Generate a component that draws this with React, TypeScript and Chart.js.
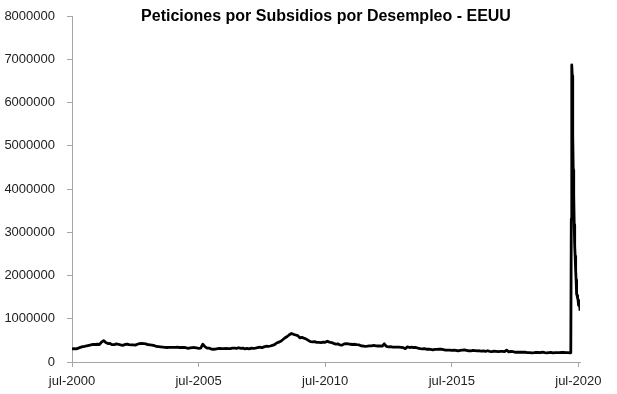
import { useEffect, useRef } from 'react';
import { Chart, registerables } from 'chart.js';

Chart.register(...registerables);

const TITLE = 'Peticiones por Subsidios por Desempleo - EEUU';

// Weekly initial claims, monthly readings (thousands), Jul 2000 -> Feb 2020
const claims2000 = [305, 310, 305, 320, 340, 355]; // Jul-Dec
const claims2001 = [360, 375, 385, 395, 405, 405, 410, 405, 460, 495, 450, 425];
const claims2002 = [430, 400, 400, 420, 410, 395, 385, 400, 415, 400, 395, 395];
const claims2003 = [390, 410, 425, 430, 425, 420, 400, 395, 390, 380, 360, 355];
const claims2004 = [350, 345, 340, 335, 340, 340, 340, 340, 345, 335, 335, 335];
const claims2005 = [330, 315, 325, 330, 335, 325, 315, 320, 410, 355, 320, 320];
const claims2006 = [300, 295, 300, 310, 315, 310, 310, 315, 310, 310, 320, 320];
const claims2007 = [315, 330, 315, 320, 305, 315, 305, 320, 315, 320, 335, 345];
const claims2008 = [330, 350, 365, 360, 370, 385, 400, 440, 460, 480, 520, 560];
const claims2009 = [590, 630, 660, 640, 625, 610, 560, 570, 550, 530, 500, 470];
const claims2010 = [465, 470, 455, 455, 450, 460, 455, 480, 460, 450, 430, 415];
const claims2011 = [420, 395, 390, 420, 425, 420, 410, 405, 410, 400, 395, 375];
const claims2012 = [370, 360, 365, 375, 375, 385, 375, 370, 375, 365, 420, 360];
const claims2013 = [350, 355, 345, 345, 345, 345, 340, 330, 310, 350, 335, 345];
const claims2014 = [335, 335, 320, 310, 305, 310, 295, 300, 290, 280, 290, 290];
const claims2015 = [295, 295, 285, 275, 275, 275, 270, 275, 270, 260, 270, 275];
const claims2016 = [280, 270, 260, 255, 270, 265, 255, 260, 250, 255, 245, 260];
const claims2017 = [245, 240, 250, 245, 240, 245, 245, 240, 275, 235, 245, 240];
const claims2018 = [225, 225, 225, 225, 225, 225, 215, 215, 210, 215, 225, 220];
const claims2019 = [215, 230, 215, 210, 215, 220, 210, 215, 215, 215, 220, 225];
const claims2020 = [215, 215]; // Jan-Feb

// Weekly readings from March 2020 (thousands)
const weekDates2020 = [
  '2020-03-07', '2020-03-14', '2020-03-21', '2020-03-28', '2020-04-04', '2020-04-11',
  '2020-04-18', '2020-04-25', '2020-05-02', '2020-05-09', '2020-05-16', '2020-05-23',
  '2020-05-30', '2020-06-06', '2020-06-13', '2020-06-20', '2020-06-27', '2020-07-04',
  '2020-07-11', '2020-07-18', '2020-07-25',
];
const weekClaims2020 = [
  211, 282, 3307, 6867, 6615, 5237, 4442, 3867, 3176, 2687, 2446, 2123,
  1897, 1566, 1540, 1482, 1427, 1314, 1300, 1416, 1186,
];

const xTickDates = ['2000-07-01', '2005-07-01', '2010-07-01', '2015-07-01', '2020-07-01'];
const xTickLabels = ['jul-2000', 'jul-2005', 'jul-2010', 'jul-2015', 'jul-2020'];
const yMin = 0;
const yMax = 8000000;
const yStep = 1000000;

const monthlyClaims = [
  ...claims2000, ...claims2001, ...claims2002, ...claims2003, ...claims2004,
  ...claims2005, ...claims2006, ...claims2007, ...claims2008, ...claims2009,
  ...claims2010, ...claims2011, ...claims2012, ...claims2013, ...claims2014,
  ...claims2015, ...claims2016, ...claims2017, ...claims2018, ...claims2019,
  ...claims2020,
];

function monthsSinceStart(dateStr: string): number {
  const [y, m, d] = dateStr.split('-').map(Number);
  const dim = new Date(y, m, 0).getDate();
  return (y - 2000) * 12 + (m - 7) + ((d || 1) - 1) / dim;
}

const points = [
  ...monthlyClaims.map((v, i) => ({ x: i, y: v * 1000 })),
  ...weekDates2020.map((d, i) => ({ x: monthsSinceStart(d), y: weekClaims2020[i] * 1000 })),
];

const FONT = '"Liberation Sans", Arial, Helvetica, sans-serif';
const AXIS_COLOR = '#a6a6a6';

const titlePlugin = {
  id: 'centerTitle',
  afterDraw(chart: any) {
    const { ctx, chartArea } = chart;
    ctx.save();
    ctx.font = `bold 16px ${FONT}`;
    ctx.fillStyle = '#000';
    ctx.textAlign = 'center';
    ctx.textBaseline = 'middle';
    ctx.fillText(TITLE, (chartArea.left + chartArea.right) / 2, 17);
    ctx.restore();
  },
};

export default function App() {
  const ref = useRef<HTMLCanvasElement | null>(null);

  useEffect(() => {
    document.body.style.margin = '0';
    const canvas = ref.current;
    if (!canvas) return;
    const xMax = points[points.length - 1].x;
    const chart = new Chart(canvas, {
      type: 'line',
      data: {
        datasets: [
          {
            data: points,
            borderColor: '#000',
            borderWidth: 2.8,
            pointRadius: 0,
            tension: 0,
            borderJoinStyle: 'round',
            fill: false,
          },
        ],
      },
      options: {
        animation: false,
        responsive: false,
        parsing: false,
        layout: { padding: { left: 0, top: 16, right: 37, bottom: 0 } },
        plugins: {
          legend: { display: false },
          title: { display: false },
          tooltip: { enabled: false },
        },
        scales: {
          x: {
            type: 'linear',
            min: 0,
            max: xMax,
            afterBuildTicks: (scale: any) => {
              scale.ticks = xTickDates.map((d) => ({ value: monthsSinceStart(d) }));
            },
            afterFit: (scale: any) => {
              scale.height = 32;
              scale.paddingLeft = 0;
              scale.paddingRight = 0;
            },
            grid: {
              display: true,
              drawOnChartArea: false,
              drawTicks: true,
              tickLength: 5,
              color: AXIS_COLOR,
            },
            border: { display: true, color: AXIS_COLOR, width: 1 },
            ticks: {
              autoSkip: false,
              maxRotation: 0,
              padding: 7,
              color: '#222',
              font: { family: FONT, size: 13 },
              callback: (_v: any, i: number) => xTickLabels[i],
            },
          },
          y: {
            type: 'linear',
            min: yMin,
            max: yMax,
            afterFit: (scale: any) => {
              scale.width = 72;
              scale.paddingTop = 0;
              scale.paddingBottom = 0;
            },
            grid: {
              display: true,
              drawOnChartArea: false,
              drawTicks: true,
              tickLength: 5,
              color: AXIS_COLOR,
            },
            border: { display: true, color: AXIS_COLOR, width: 1 },
            ticks: {
              stepSize: yStep,
              padding: 12,
              color: '#222',
              font: { family: FONT, size: 13 },
              callback: (v: any) => String(v),
            },
          },
        },
      },
      plugins: [titlePlugin],
    } as any);
    return () => chart.destroy();
  }, []);

  return (
    <div style={{ width: 617, height: 394 }}>
      <canvas ref={ref} width={617} height={394} style={{ display: 'block' }} />
    </div>
  );
}
